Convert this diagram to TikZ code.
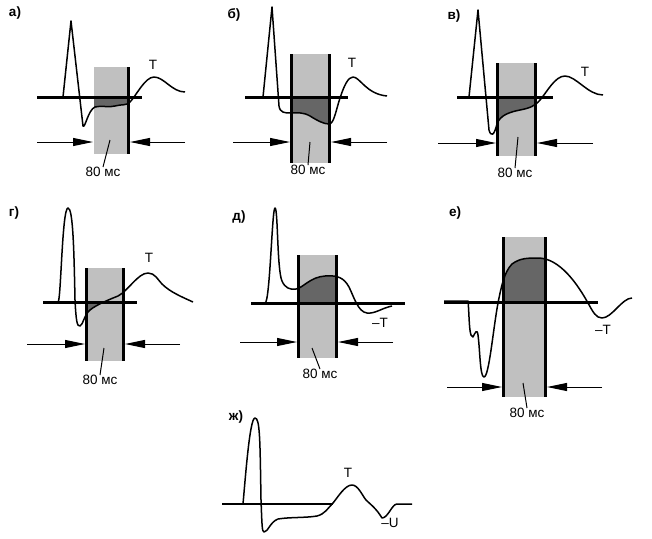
\documentclass[tikz,border=0pt]{standalone}
\usepackage{fontspec}
\setmainfont{Liberation Sans}
\usetikzlibrary{arrows.meta}
\definecolor{boxgray}{RGB}{192,192,192}
\definecolor{fillgray}{RGB}{102,102,102}
\begin{document}
\begin{tikzpicture}[x=1pt,y=-1pt,
  baseln/.style={line width=3pt},
  wave/.style={line width=1.5pt, line join=round},
  edge/.style={line width=3pt},
  arr/.style={line width=1pt, -{Triangle[length=20pt,width=8pt]}},
  tickln/.style={line width=1pt},
  lbl/.style={font=\fontsize{13.5}{15}\selectfont, inner sep=0pt},
  plbl/.style={font=\fontsize{13.5}{15}\selectfont\bfseries, inner sep=0pt},
  boxfill/.style={fill=boxgray},
  darkfill/.style={fill=fillgray}]
\useasboundingbox (0,0) rectangle (652,538);

% ---------------- а)
\def\waveA{(63,97) -- (71,21) -- (83,126) .. controls (85,129) and (88,110) .. (95,107) .. controls (102,105) and (108,108) .. (115,106) .. controls (122,104) and (126,106) .. (130,102) .. controls (136,96) and (145,77) .. (154,77) .. controls (164,77) and (172,92) .. (185,92)}
\fill[boxfill] (94,67) rectangle (128,154);
\begin{scope}\clip (94,0) rectangle (128,538);
\fill[darkfill] \waveA -- (185,97) -- cycle;\end{scope}
\draw[baseln] (37,97) -- (142,97);
\draw[wave] \waveA;
\draw[edge] (128,67) -- (128,154);
\coordinate (aL) at (37,142); \coordinate (aLe) at (93,142);
\coordinate (aR) at (185,142); \coordinate (aRe) at (130,142);
\draw[arr] (aL) -- (aLe); \draw[arr] (aR) -- (aRe);
\node[lbl] (msA) at (103,172) {80 мс};
\coordinate (tA) at (110,140);
\draw[tickln] (tA) -- (msA.north);
\node[lbl] (TA) at (153,65) {T};
\node[plbl] (labA) at (15,13) {а)};

% ---------------- б)
\def\waveB{(263,97) -- (272,7) -- (279,106) .. controls (280,113) and (285,113) .. (291,113) .. controls (298,113) and (303,112) .. (310,116) .. controls (318,121) and (324,124) .. (329,124) .. controls (334,124) and (336,110) .. (340,98) .. controls (344,86) and (348,77) .. (353,77) .. controls (360,77) and (366,94) .. (387,96)}
\fill[boxfill] (291,54) rectangle (329,163);
\begin{scope}\clip (291,0) rectangle (329,538);
\fill[darkfill] \waveB -- (387,97) -- cycle;\end{scope}
\draw[baseln] (245,97) -- (348,97);
\draw[wave] \waveB;
\draw[edge] (291,54) -- (291,163);
\draw[edge] (329,54) -- (329,163);
\coordinate (bL) at (233,142); \coordinate (bLe) at (290,142);
\coordinate (bR) at (387,142); \coordinate (bRe) at (331,142);
\draw[arr] (bL) -- (bLe); \draw[arr] (bR) -- (bRe);
\node[lbl] (msB) at (308,170) {80 мс};
\coordinate (tB) at (310,142);
\draw[tickln] (tB) -- (msB.north);
\node[lbl] (TB) at (352,63) {T};
\node[plbl] (labB) at (234,15) {б)};

% ---------------- в)
\def\waveC{(469,97) -- (478,10) -- (489,130) .. controls (491,137) and (494,136) .. (497,124) .. controls (500,115) and (510,112) .. (520,110) .. controls (530,108) and (535,106) .. (540,100) .. controls (547,92) and (555,76) .. (565,76) .. controls (576,76) and (588,95) .. (603,95)}
\fill[boxfill] (497,63) rectangle (535,156);
\begin{scope}\clip (497,0) rectangle (535,538);
\fill[darkfill] \waveC -- (603,97) -- cycle;\end{scope}
\draw[baseln] (457,97) -- (553,97);
\draw[wave] \waveC;
\draw[edge] (497,63) -- (497,156);
\draw[edge] (535,63) -- (535,156);
\coordinate (cL) at (438,143); \coordinate (cLe) at (496,143);
\coordinate (cR) at (593,143); \coordinate (cRe) at (537,143);
\draw[arr] (cL) -- (cLe); \draw[arr] (cR) -- (cRe);
\node[lbl] (msC) at (515,173) {80 мс};
\coordinate (tC) at (518,137);
\draw[tickln] (tC) -- (msC.north);
\node[lbl] (TC) at (585,72) {T};
\node[plbl] (labC) at (454,16) {в)};

% ---------------- г)
\def\waveD{(43,302) -- (58,302) .. controls (61,302) and (62,208) .. (68,208) .. controls (73,208) and (74,250) .. (75,300) .. controls (76,320) and (77,327) .. (80,326) .. controls (83,325) and (84,315) .. (90,310) .. controls (96,305) and (108,300) .. (118,296) .. controls (128,291) and (138,273) .. (148,273) .. controls (155,273) and (158,280) .. (162,284) .. controls (170,292) and (182,297) .. (193,302)}
\fill[boxfill] (86,268) rectangle (123,361);
\begin{scope}\clip (86,302) rectangle (123,538);
\fill[darkfill] \waveD -- cycle;\end{scope}
\draw[baseln] (43,302) -- (137,302);
\draw[wave] \waveD;
\draw[edge] (86,268) -- (86,361);
\draw[edge] (123,268) -- (123,361);
\coordinate (dL) at (27,344); \coordinate (dLe) at (85,344);
\coordinate (dR) at (180,344); \coordinate (dRe) at (125,344);
\draw[arr] (dL) -- (dLe); \draw[arr] (dR) -- (dRe);
\node[lbl] (msD) at (100,380) {80 мс};
\coordinate (tD) at (104,348);
\draw[tickln] (tD) -- (msD.north);
\node[lbl] (TD) at (149,258) {T};
\node[plbl] (labD) at (14,213) {г)};

% ---------------- д)
\def\waveE{(265,303) .. controls (270,303) and (272,208) .. (275,208) .. controls (278,208) and (277,270) .. (282,281) .. controls (285,288) and (290,290) .. (296,289) .. controls (303,288) and (310,277) .. (325,276) .. controls (338,275) and (344,278) .. (349,287) .. controls (354,297) and (358,312) .. (367,313) .. controls (375,314) and (382,308) .. (392,306)}
\fill[boxfill] (298,255) rectangle (336,358);
\begin{scope}\clip (298,0) rectangle (336,538);
\fill[darkfill] \waveE -- (392,303) -- cycle;\end{scope}
\draw[baseln] (251,303) -- (405,303);
\draw[wave] \waveE;
\draw[edge] (298,255) -- (298,358);
\draw[edge] (336,255) -- (336,358);
\coordinate (eL) at (240,342); \coordinate (eLe) at (297,342);
\coordinate (eR) at (393,342); \coordinate (eRe) at (338,342);
\draw[arr] (eL) -- (eLe); \draw[arr] (eR) -- (eRe);
\node[lbl] (msE) at (320,374) {80 мс};
\coordinate (tE) at (312,348);
\draw[tickln] (tE) -- (msE.north);
\node[lbl] (TE) at (380,323) {–T};
\node[plbl] (labE) at (239,217) {д)};

% ---------------- е)
\def\waveF{(444,301) -- (468,301) .. controls (469,310) and (469,330) .. (471,335) -- (473,337) .. controls (475,333) and (477,328) .. (478,335) .. controls (480,350) and (480,377) .. (484,377) .. controls (489,377) and (493,330) .. (498,303) .. controls (501,288) and (504,272) .. (512,264) .. controls (520,258) and (528,258) .. (538,258) .. controls (560,258) and (578,285) .. (588,303) .. controls (593,312) and (596,318) .. (602,318) .. controls (612,318) and (622,298) .. (632,298)}
\fill[boxfill] (503,237) rectangle (545,397);
\begin{scope}\clip (503,0) rectangle (545,538);
\fill[darkfill] \waveF -- (632,302) -- cycle;\end{scope}
\draw[baseln] (444,302) -- (598,302);
\draw[wave] \waveF;
\draw[edge] (503,237) -- (503,397);
\draw[edge] (545,237) -- (545,397);
\coordinate (fL) at (447,387); \coordinate (fLe) at (502,387);
\coordinate (fR) at (602,387); \coordinate (fRe) at (547,387);
\draw[arr] (fL) -- (fLe); \draw[arr] (fR) -- (fRe);
\node[lbl] (msF) at (527,413) {80 мс};
\coordinate (tF) at (523,383);
\draw[tickln] (tF) -- (msF.north);
\node[lbl] (TF) at (603,330) {–T};
\node[plbl] (labF) at (455,213) {е)};

% ---------------- ж)
\def\waveG{(243,504) .. controls (246,470) and (250,418) .. (255,418) .. controls (260,418) and (260,440) .. (261,500) .. controls (262,525) and (262,532) .. (264,532) .. controls (268,532) and (270,522) .. (278,519) .. controls (290,517) and (305,518) .. (317,516) .. controls (325,514) and (328,508) .. (333,503) .. controls (338,497) and (345,485) .. (352,485) .. controls (358,485) and (362,495) .. (366,500) .. controls (370,504) and (376,508) .. (382,518) .. controls (388,518) and (392,504) .. (397,504) -- (412,504)}
\draw[line width=1.8pt] (222,504) -- (333,504);
\draw[wave] \waveG;
\node[lbl] (TG) at (348,473) {T};
\node[lbl] (UG) at (390,523) {–U};
\node[plbl] (labG) at (236,417) {ж)};
\end{tikzpicture}
\end{document}
